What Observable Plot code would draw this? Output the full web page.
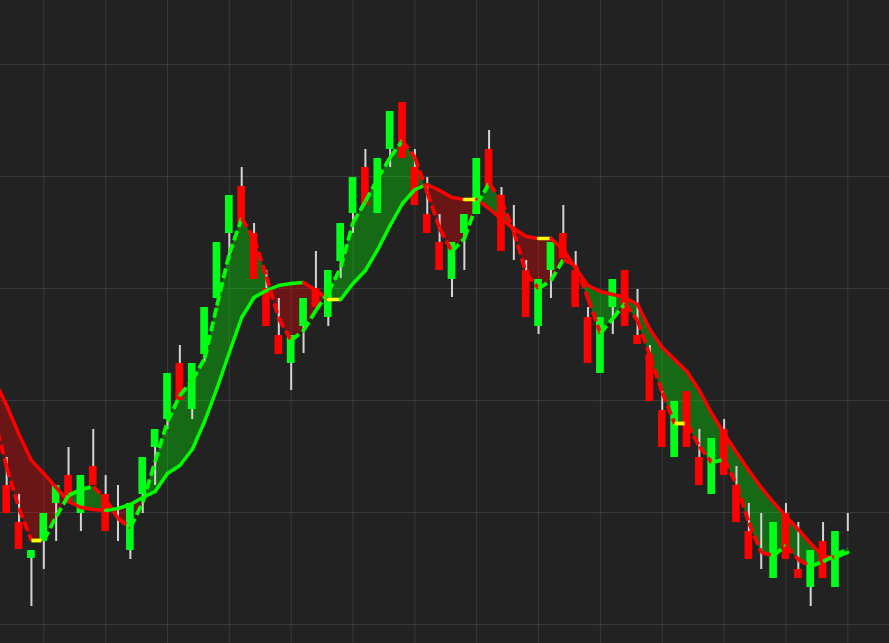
<!DOCTYPE html>
<html>
<head>
<meta charset="utf-8">
<script src="https://cdn.jsdelivr.net/npm/d3@7"></script>
<script src="https://cdn.jsdelivr.net/npm/@observablehq/plot@0.6"></script>
<style>
  html, body { margin: 0; padding: 0; background: #222222; }
  #chart { width: 889px; height: 643px; overflow: hidden; }
</style>
</head>
<body>
<div id="chart"></div>
<script>
// ---- candle data (bar index 0..68) ----
const open  = [51.5,47.8,44.2,45.9,49.7,52.5,48.7,53.4,50.6,46.0,45.0,50.6,55.3,58.1,63.7,59.1,64.6,70.2,76.7,81.4,76.7,71.2,66.5,63.7,67.4,71.2,68.3,73.9,78.7,83.3,78.7,85.1,89.8,83.3,78.6,75.8,72.1,76.7,78.6,85.1,80.5,74.2,73.0,67.4,73.0,76.7,73.0,68.3,62.7,69.3,73.0,66.5,64.6,59.0,54.3,60.9,54.3,50.6,57.1,51.5,46.9,44.8,42.2,48.7,43.1,41.3,45.9,41.3,47.5];
const high  = [54.3,50.6,45.0,48.7,51.5,55.3,52.5,57.1,52.5,51.5,49.7,54.3,57.1,62.7,65.5,63.7,69.3,75.8,80.5,83.3,77.7,73.0,70.2,66.5,70.2,74.9,73.0,77.7,82.3,85.1,84.2,88.9,89.8,85.1,82.3,78.6,75.8,78.6,84.2,87.0,81.3,79.5,74.0,72.1,75.8,79.5,74.9,69.3,68.3,72.1,73.0,71.1,65.5,60.9,59.9,60.9,57.1,56.2,58.1,53.4,49.7,48.7,47.8,49.7,47.8,45.0,47.8,46.9,48.7];
const low   = [48.7,45.1,39.4,43.1,45.9,49.7,46.9,51.5,46.9,45.9,44.1,48.7,51.5,57.1,60.0,58.1,63.8,70.2,74.0,77.7,72.1,67.4,64.6,61.0,64.7,69.3,67.4,72.2,76.7,79.5,78.7,83.3,84.2,79.5,76.7,73.0,70.3,73.0,78.6,81.3,74.9,74.0,68.3,66.6,70.2,74.2,69.3,63.7,62.7,66.6,67.4,65.6,59.9,55.3,54.3,55.3,51.5,50.6,52.5,47.8,44.1,43.1,42.2,44.1,42.2,39.4,42.2,41.3,46.9];
const close = [48.7,45.1,45.0,48.7,51.5,49.7,52.5,51.5,46.9,46.0,49.7,54.3,57.1,62.7,60.0,63.7,69.3,75.8,80.5,77.7,72.1,67.4,64.6,66.5,70.2,69.3,73.0,77.7,82.3,79.5,84.2,88.9,84.2,79.5,76.7,73.0,75.8,78.6,84.2,81.3,74.9,74.2,68.3,72.1,75.8,74.2,69.3,63.7,68.3,72.1,67.4,65.6,59.9,55.3,59.9,55.3,51.5,56.2,52.5,47.8,44.1,44.8,47.8,44.1,42.2,45.0,42.2,46.9,47.5];

// ---- moving averages, read at bar index -1..68 ----
const maStart = -1;
const fastMA = [58.3,53.3,49.2,46.0,46.0,48.4,50.5,51.1,51.4,50.1,48.2,47.3,49.8,53.9,57.9,60.5,62.0,64.2,69.5,74.7,78.2,76.2,72.4,68.2,66.0,67.0,69.0,70.8,73.3,77.8,79.9,82.2,84.3,86.0,84.3,80.8,77.2,74.9,76.2,79.6,81.7,80.0,76.9,72.7,71.2,72.0,74.1,73.5,70.2,66.7,68.2,69.7,68.0,64.5,60.8,57.7,57.7,55.4,53.8,54.1,51.6,47.8,44.8,44.5,45.5,44.1,43.4,43.9,44.5,45.2];
const slowMA = [62.1,59.5,56.6,54.0,52.7,51.3,49.9,49.3,49.1,49.0,49.2,49.6,50.3,50.9,52.7,53.5,55.1,57.9,61.2,64.8,68.3,70.3,71.0,71.5,71.7,71.8,71.0,70.1,70.1,71.7,73.0,75.1,77.5,79.7,81.1,81.6,81.0,80.3,80.1,80.1,79.2,78.1,77.2,76.4,76.2,76.2,75.1,73.2,71.5,70.9,70.6,70.3,69.6,67.1,65.3,64.1,62.9,61.0,58.7,56.7,54.8,53.0,51.3,49.8,48.4,47.1,45.7,44.4,44.3,44.8];
// band colour between the averages at each MA point (G = green, R = red)
const band = ["R","R","R","R","R","R","G","G","G","G","R","R","R","G","G","G","G","G","G","G","G","G","G","R","R","R","R","G","G","G","G","G","G","G","G","R","R","R","R","R","G","G","R","R","R","R","R","G","G","G","G","G","G","G","G","G","G","G","G","G","G","G","G","G","G","G","G","G","G","G"];

// ---- grid ticks ----
const xTicks = [3,8,13,18,23,28,33,38,43,48,53,58,63,68];
const yTicks = [37.6,48.8,60.0,71.2,82.4,93.6];

// ---- styling ----
const UP = "#00ff1a", DOWN = "#ff0000", FLAT = "#ffff00";
const LINE_UP = "#00ff00";

// ---- build mark tables ----
const candles = open.map((o, i) => ({i, open: o, high: high[i], low: low[i], close: close[i]}));
const bodies = candles.filter(d => d.open !== d.close);

function segments(ma) {
  const segs = [];
  for (let k = 0; k < ma.length - 1; k++) {
    const a = ma[k], b = ma[k + 1];
    segs.push({x1: maStart + k, x2: maStart + k + 1, y1: a, y2: b,
      color: b > a ? LINE_UP : b < a ? DOWN : FLAT});
  }
  return segs;
}
const slowSegs = segments(slowMA);
const fastSegs = segments(fastMA);

// fill between averages, split at crossings
const pts = [];
let run = 0, cur = band[0];
pts.push({run, x: maStart, s: slowMA[0], f: fastMA[0], side: cur});
for (let k = 0; k < fastMA.length - 1; k++) {
  const xa = maStart + k, xb = xa + 1;
  const fa = fastMA[k], fb = fastMA[k + 1], sa = slowMA[k], sb = slowMA[k + 1];
  const da = fa - sa, db = fb - sb;
  if (da * db < 0) {
    const t = da / (da - db);
    const xc = xa + t, yc = fa + t * (fb - fa);
    pts.push({run, x: xc, s: yc, f: yc, side: cur});
    if (band[k + 1] !== cur) {
      run++; cur = band[k + 1];
      pts.push({run, x: xc, s: yc, f: yc, side: cur});
    }
  } else if (band[k + 1] !== cur) {
    pts.push({run, x: xb, s: sb, f: fb, side: cur});
    run++; cur = band[k + 1];
  }
  pts.push({run, x: xb, s: sb, f: fb, side: cur});
}

const chart = Plot.plot({
  width: 889,
  height: 643,
  marginTop: 0, marginRight: 0, marginBottom: 0, marginLeft: 0,
  style: {background: "#222222", overflow: "hidden"},
  x: {domain: [-0.5, 71.37], axis: null},
  y: {domain: [35.7, 100], axis: null},
  color: {type: "identity"},
  marks: [
    Plot.ruleX(xTicks, {stroke: "#3a3a3a", strokeWidth: 1}),
    Plot.ruleY(yTicks, {stroke: "#3a3a3a", strokeWidth: 1}),
    Plot.areaY(pts, {x: "x", y1: "s", y2: "f", z: "run",
      fill: d => d.side === "G" ? "#00ff00" : "#ff0000", fillOpacity: 0.33, curve: "linear"}),
    Plot.ruleX(candles, {x: "i", y1: "low", y2: "high", stroke: "#d4d4d4", strokeWidth: 2}),
    Plot.rect(bodies, {x1: d => d.i - 0.31, x2: d => d.i + 0.31, y1: "open", y2: "close",
      fill: d => d.close > d.open ? UP : DOWN}),
    Plot.link(slowSegs, {x1: "x1", y1: "y1", x2: "x2", y2: "y2", stroke: "color",
      strokeWidth: 3.5, strokeLinecap: "round"}),
    Plot.link(fastSegs, {x1: "x1", y1: "y1", x2: "x2", y2: "y2", stroke: "color",
      strokeWidth: 3.8, strokeDasharray: "10,4", strokeLinecap: "butt"})
  ]
});
document.getElementById("chart").appendChild(chart);
</script>
</body>
</html>
